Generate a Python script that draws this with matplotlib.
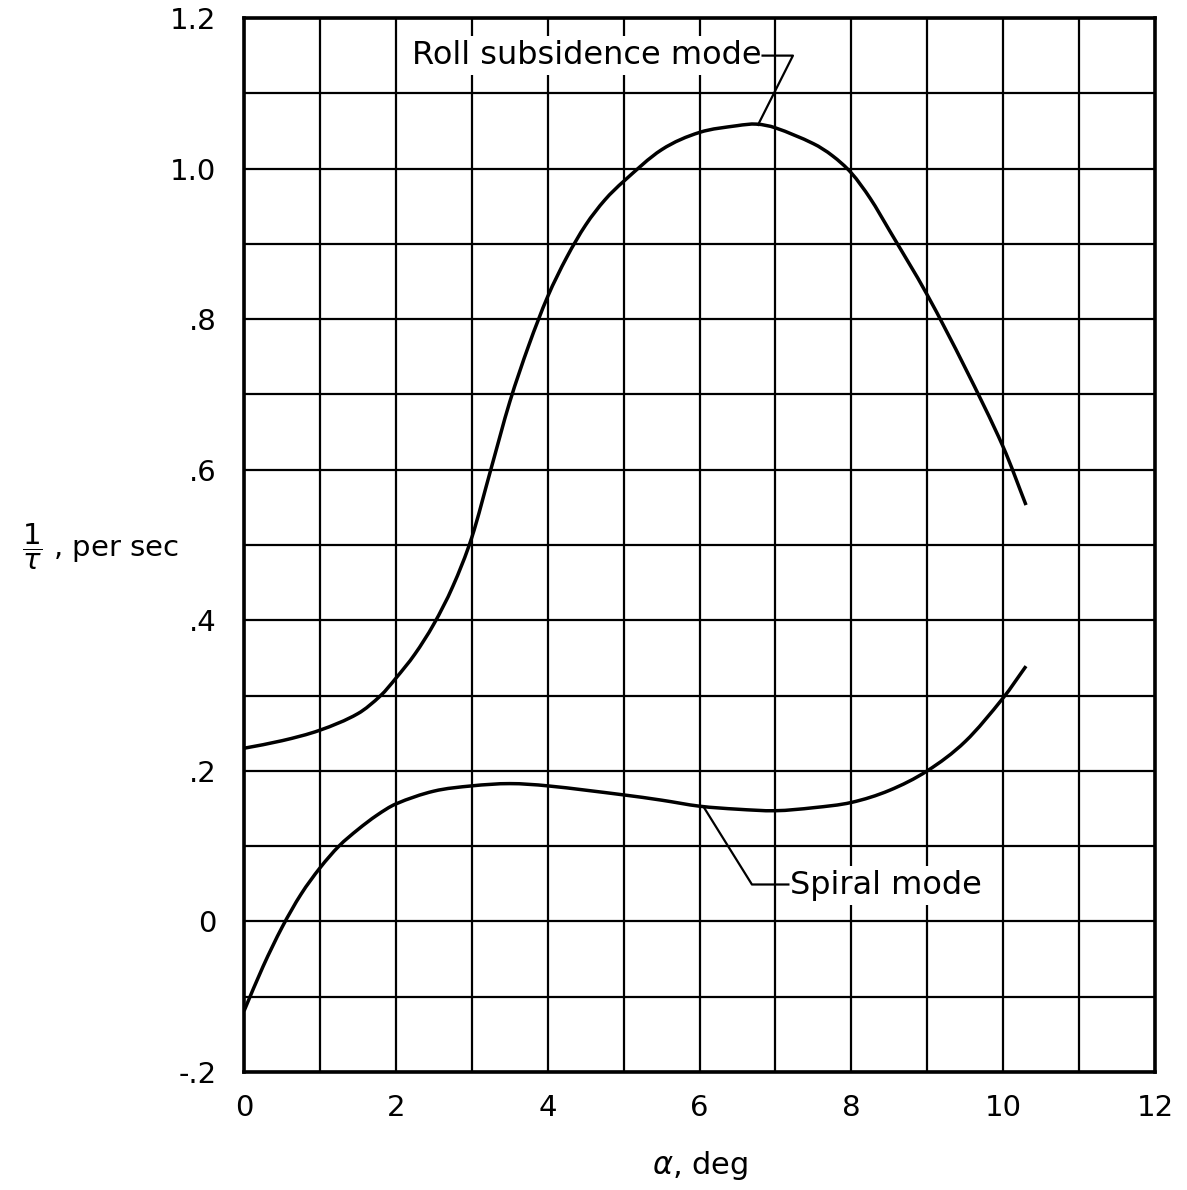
import matplotlib
matplotlib.use('Agg')
import matplotlib.pyplot as plt
from matplotlib.path import Path
from matplotlib.patches import PathPatch
from matplotlib.ticker import MultipleLocator

# values
alpha_roll = [0, 0.5, 1, 1.5, 1.8, 2, 2.25, 2.5, 2.75, 3, 3.25, 3.5, 3.75, 4,
              4.25, 4.5, 4.75, 5, 5.5, 6, 6.5, 6.75, 7, 7.5, 7.75, 8, 8.25,
              8.5, 9, 9.5, 10, 10.3]
roll = [0.230, 0.240, 0.254, 0.276, 0.300, 0.323, 0.355, 0.395, 0.445, 0.510,
        0.600, 0.690, 0.765, 0.830, 0.882, 0.925, 0.958, 0.983, 1.025, 1.048,
        1.057, 1.059, 1.054, 1.033, 1.017, 0.994, 0.960, 0.918, 0.832, 0.735,
        0.630, 0.553]

alpha_spiral = [0, 0.25, 0.5, 0.75, 1, 1.25, 1.5, 1.75, 2, 2.5, 3, 3.5, 4, 5,
                5.5, 6, 6.5, 7, 7.5, 8, 8.5, 9, 9.5, 10, 10.3]
spiral = [-0.119, -0.060, -0.008, 0.036, 0.071, 0.100, 0.122, 0.141, 0.156,
          0.173, 0.180, 0.183, 0.180, 0.168, 0.161, 0.153, 0.149, 0.147,
          0.151, 0.158, 0.174, 0.200, 0.239, 0.297, 0.339]

x_ticks = [0, 2, 4, 6, 8, 10, 12]
y_ticks = [-0.2, 0, 0.2, 0.4, 0.6, 0.8, 1.0, 1.2]
y_tick_labels = ['-.2', '0', '.2', '.4', '.6', '.8', '1.0', '1.2']


def smooth_path(xs, ys):
    # cubic Hermite through the read points (drawn as Bezier segments)
    n = len(xs)
    m = []
    for i in range(n):
        a = max(i - 1, 0)
        b = min(i + 1, n - 1)
        m.append((ys[b] - ys[a]) / (xs[b] - xs[a]))
    verts = [(xs[0], ys[0])]
    codes = [Path.MOVETO]
    for i in range(n - 1):
        h = (xs[i + 1] - xs[i]) / 3
        verts += [(xs[i] + h, ys[i] + m[i] * h),
                  (xs[i + 1] - h, ys[i + 1] - m[i + 1] * h),
                  (xs[i + 1], ys[i + 1])]
        codes += [Path.CURVE4] * 3
    return Path(verts, codes)


fig = plt.figure(figsize=(11.87, 11.90), dpi=100)
ax = fig.add_axes([0.2056, 0.0992, 0.7675, 0.8857])

for xs, ys in [(alpha_roll, roll), (alpha_spiral, spiral)]:
    ax.add_patch(PathPatch(smooth_path(xs, ys), facecolor='none',
                           edgecolor='black', lw=2.5, zorder=4))

ax.set_xlim(0, 12)
ax.set_ylim(-0.2, 1.2)
ax.set_xticks(x_ticks)
ax.set_xticklabels([str(t) for t in x_ticks])
ax.set_yticks(y_ticks)
ax.set_yticklabels(y_tick_labels)
ax.xaxis.set_minor_locator(MultipleLocator(1))
ax.yaxis.set_minor_locator(MultipleLocator(0.1))
ax.grid(which='both', color='black', lw=1.6)
ax.tick_params(which='both', length=0, labelsize=21)
ax.tick_params(axis='x', pad=16)
ax.tick_params(axis='y', pad=20)
for s in ax.spines.values():
    s.set_linewidth(2.6)

# annotations with leader lines
ax.text(6.82, 1.150, 'Roll subsidence mode', fontsize=23, ha='right', va='center',
        zorder=3, bbox=dict(facecolor='white', edgecolor='none', pad=3))
ax.plot([6.83, 7.23, 6.77], [1.150, 1.150, 1.058], color='black', lw=1.6, zorder=4)

ax.text(7.19, 0.048, 'Spiral mode', fontsize=23, ha='left', va='center',
        zorder=3, bbox=dict(facecolor='white', edgecolor='none', pad=3))
ax.plot([6.06, 6.69, 7.17], [0.151, 0.049, 0.049], color='black', lw=1.6, zorder=4)

fig.text(22 / 1187, 1 - 547 / 1190, r'$\dfrac{1}{\tau}$ , per sec', fontsize=21,
         ha='left', va='center')
fig.text(700 / 1187, 1 - 1166 / 1190, r'$\alpha$, deg', fontsize=22,
         ha='center', va='center')

fig.savefig('out.png', dpi=100)
